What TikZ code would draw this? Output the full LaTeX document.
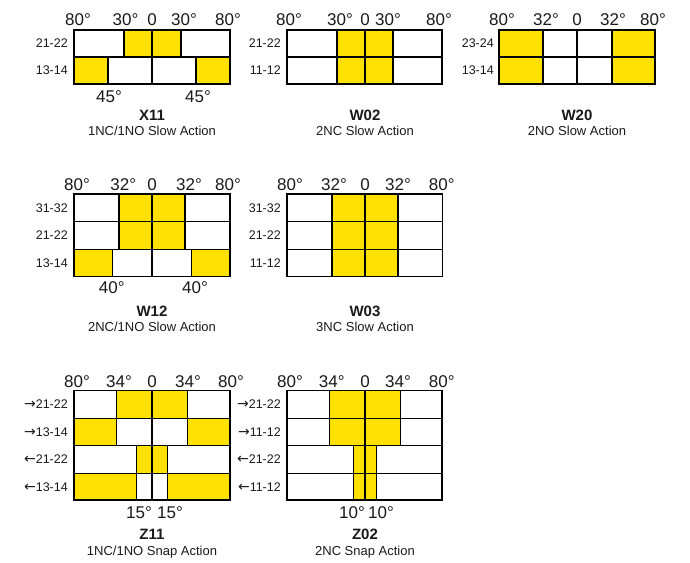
\documentclass[tikz,border=0pt]{standalone}
\usepackage{fontspec}
\setmainfont{Liberation Sans}
\newfontfamily\arrowfont{DejaVu Sans}
\newcommand\ra{{\arrowfont\fontsize{14}{14}\selectfont →}}
\newcommand\la{{\arrowfont\fontsize{14}{14}\selectfont ←}}
\definecolor{yel}{HTML}{FFE100}
\definecolor{txt}{HTML}{1A1A1A}
\newcommand\crow[3]{%
  \foreach \a/\b/\c in {#3} {\filldraw[cellbox, fill=\c] (\a,#1) rectangle (\b,#2);}}
\begin{document}
\begin{tikzpicture}[x=1pt,y=-1pt,
  cellbox/.style={draw=black, line width=1.2pt},
  ang/.style={font=\fontsize{17}{17}\selectfont, text=txt, inner sep=0pt},
  rowlab/.style={font=\fontsize{12.5}{12.5}\selectfont, text=txt, anchor=east, inner sep=0pt},
  ttl/.style={font=\fontsize{15}{15}\selectfont\bfseries, text=txt, inner sep=0pt},
  sub/.style={font=\fontsize{13}{13}\selectfont, text=txt, inner sep=0pt}]
\useasboundingbox (0,0) rectangle (690,562);

% ---------------- X11
\crow{30}{57}{74/124/white,124/152/yel,152/181/yel,181/230/white}
\crow{57}{84}{74/108/yel,108/152/white,152/196/white,196/230/yel}
\node[rowlab] (x11r1) at (68,43.5) {21-22};
\node[rowlab] (x11r2) at (68,70.5) {13-14};
\node[ang] (x11a1) at (78,20) {80°};
\node[ang] (x11a2) at (125.5,20) {30°};
\node[ang] (x11a3) at (152,20) {0};
\node[ang] (x11a4) at (184,20) {30°};
\node[ang] (x11a5) at (228,20) {80°};
\node[ang] (x11b1) at (109,97) {45°};
\node[ang] (x11b2) at (198,97) {45°};
\node[ttl] (x11t) at (152,115) {X11};
\node[sub] (x11s) at (152,131) {1NC/1NO Slow Action};

% ---------------- W02
\crow{30}{57}{287/337/white,337/365/yel,365/393/yel,393/442/white}
\crow{57}{84}{287/337/white,337/365/yel,365/393/yel,393/442/white}
\node[rowlab] (w02r1) at (281,43.5) {21-22};
\node[rowlab] (w02r2) at (281,70.5) {11-12};
\node[ang] (w02a1) at (289,20) {80°};
\node[ang] (w02a2) at (340,20) {30°};
\node[ang] (w02a3) at (365,20) {0};
\node[ang] (w02a4) at (388,20) {30°};
\node[ang] (w02a5) at (439,20) {80°};
\node[ttl] (w02t) at (365,115) {W02};
\node[sub] (w02s) at (365,131) {2NC Slow Action};

% ---------------- W20
\crow{30}{57}{499/543/yel,543/577/white,577/612/white,612/655/yel}
\crow{57}{84}{499/543/yel,543/577/white,577/612/white,612/655/yel}
\node[rowlab] (w20r1) at (494,43.5) {23-24};
\node[rowlab] (w20r2) at (494,70.5) {13-14};
\node[ang] (w20a1) at (502,20) {80°};
\node[ang] (w20a2) at (546,20) {32°};
\node[ang] (w20a3) at (577,20) {0};
\node[ang] (w20a4) at (613,20) {32°};
\node[ang] (w20a5) at (653,20) {80°};
\node[ttl] (w20t) at (577,115) {W20};
\node[sub] (w20s) at (577,131) {2NO Slow Action};

% ---------------- W12
\crow{194}{221.7}{74/119/white,119/152/yel,152/185/yel,185/230/white}
\crow{221.7}{249.3}{74/119/white,119/152/yel,152/185/yel,185/230/white}
\crow{249.3}{276.7}{74/112.7/yel,112.7/152/white,152/191.3/white,191.3/230/yel}
\node[rowlab] (w12r1) at (68,207.8) {31-32};
\node[rowlab] (w12r2) at (68,235.5) {21-22};
\node[rowlab] (w12r3) at (68,263) {13-14};
\node[ang] (w12a1) at (77,185) {80°};
\node[ang] (w12a2) at (123.3,185) {32°};
\node[ang] (w12a3) at (152,185) {0};
\node[ang] (w12a4) at (189,185) {32°};
\node[ang] (w12a5) at (228,185) {80°};
\node[ang] (w12b1) at (111.7,288) {40°};
\node[ang] (w12b2) at (195,288) {40°};
\node[ttl] (w12t) at (152,311.7) {W12};
\node[sub] (w12s) at (152,327) {2NC/1NO Slow Action};

% ---------------- W03
\crow{194}{221.7}{287/332/white,332/365/yel,365/398/yel,398/442.7/white}
\crow{221.7}{249.3}{287/332/white,332/365/yel,365/398/yel,398/442.7/white}
\crow{249.3}{276.7}{287/332/white,332/365/yel,365/398/yel,398/442.7/white}
\node[rowlab] (w03r1) at (281,207.8) {31-32};
\node[rowlab] (w03r2) at (281,235.5) {21-22};
\node[rowlab] (w03r3) at (281,263) {11-12};
\node[ang] (w03a1) at (290,185) {80°};
\node[ang] (w03a2) at (334,185) {32°};
\node[ang] (w03a3) at (365,185) {0};
\node[ang] (w03a4) at (398,185) {32°};
\node[ang] (w03a5) at (441.7,185) {80°};
\node[ttl] (w03t) at (365,311.7) {W03};
\node[sub] (w03s) at (365,327) {3NC Slow Action};

% ---------------- Z11
\crow{390.7}{418.3}{74/116.3/white,116.3/152/yel,152/187.7/yel,187.7/230/white}
\crow{418.3}{445.7}{74/116.3/yel,116.3/152/white,152/187.7/white,187.7/230/yel}
\crow{445.7}{473.3}{74/136.7/white,136.7/152/yel,152/167.7/yel,167.7/230/white}
\crow{473.3}{500}{74/136.7/yel,136.7/152/white,152/167.7/white,167.7/230/yel}
\node[rowlab] (z11r1) at (68,404.5) {\ra21-22};
\node[rowlab] (z11r2) at (68,432) {\ra13-14};
\node[rowlab] (z11r3) at (68,459.5) {\la21-22};
\node[rowlab] (z11r4) at (68,486.7) {\la13-14};
\node[ang] (z11a1) at (77,381.7) {80°};
\node[ang] (z11a2) at (119,381.7) {34°};
\node[ang] (z11a3) at (152,381.7) {0};
\node[ang] (z11a4) at (188,381.7) {34°};
\node[ang] (z11a5) at (231,381.7) {80°};
\node[ang] (z11b1) at (139,513) {15°};
\node[ang] (z11b2) at (170,513) {15°};
\node[ttl] (z11t) at (152,534) {Z11};
\node[sub] (z11s) at (152,551.7) {1NC/1NO Snap Action};

% ---------------- Z02
\crow{390.7}{418.3}{287/329.3/white,329.3/365/yel,365/400.7/yel,400.7/442/white}
\crow{418.3}{445.7}{287/329.3/white,329.3/365/yel,365/400.7/yel,400.7/442/white}
\crow{445.7}{473.3}{287/353.7/white,353.7/365/yel,365/376.7/yel,376.7/442/white}
\crow{473.3}{500}{287/353.7/white,353.7/365/yel,365/376.7/yel,376.7/442/white}
\node[rowlab] (z02r1) at (281,404.5) {\ra21-22};
\node[rowlab] (z02r2) at (281,432) {\ra11-12};
\node[rowlab] (z02r3) at (281,459.5) {\la21-22};
\node[rowlab] (z02r4) at (281,486.7) {\la11-12};
\node[ang] (z02a1) at (290,381.7) {80°};
\node[ang] (z02a2) at (331.7,381.7) {34°};
\node[ang] (z02a3) at (365,381.7) {0};
\node[ang] (z02a4) at (398,381.7) {34°};
\node[ang] (z02a5) at (441.7,381.7) {80°};
\node[ang] (z02b1) at (352,513) {10°};
\node[ang] (z02b2) at (381,513) {10°};
\node[ttl] (z02t) at (365,534) {Z02};
\node[sub] (z02s) at (365,551.7) {2NC Snap Action};
\end{tikzpicture}
\end{document}
